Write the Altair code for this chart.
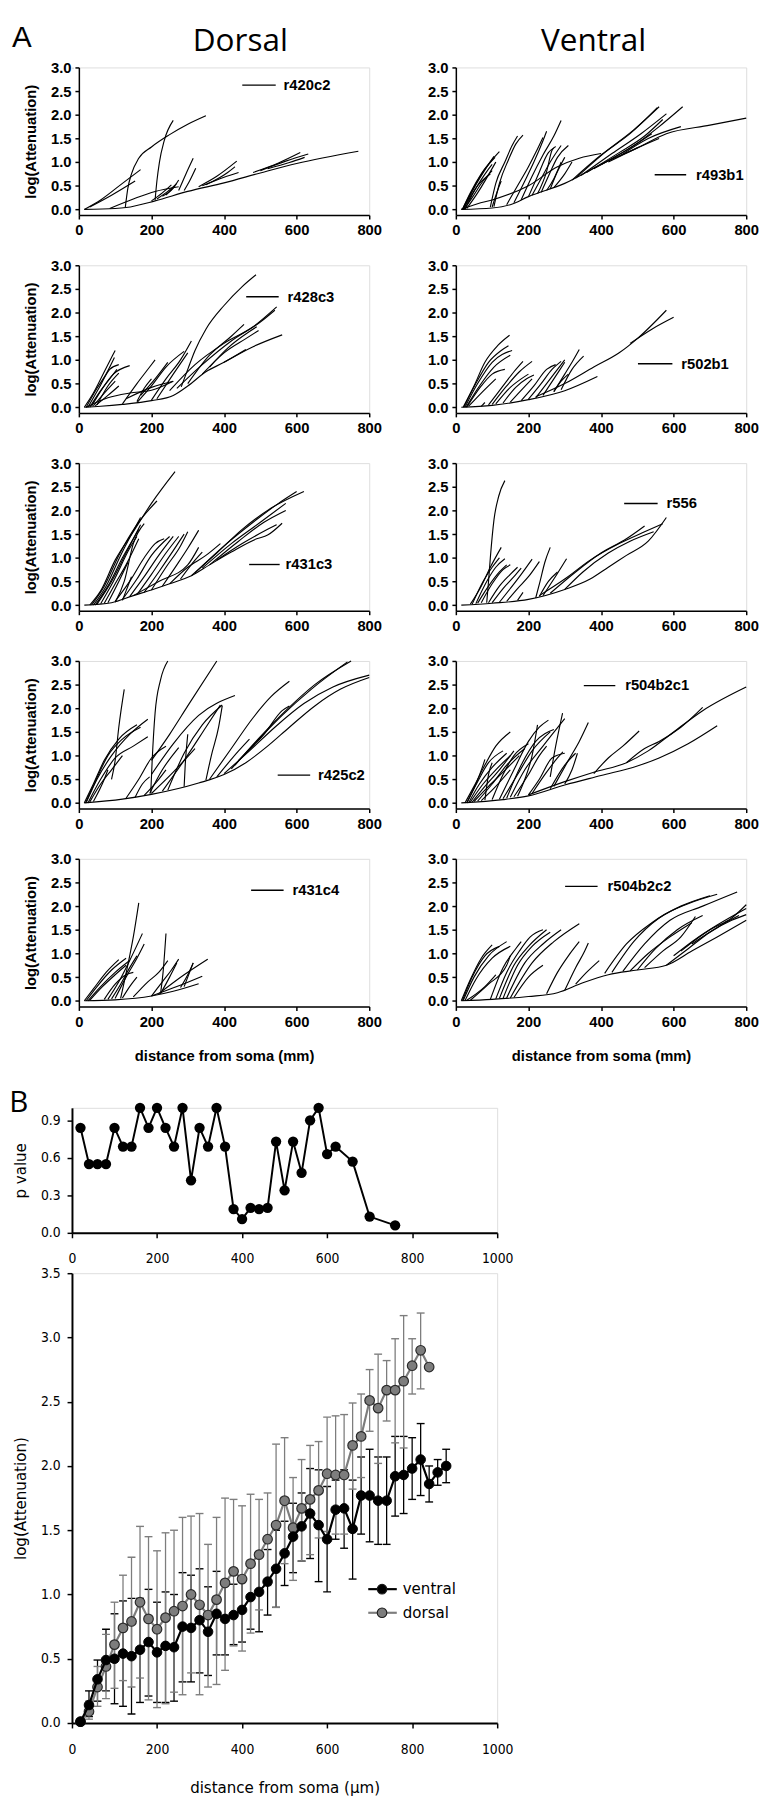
import altair as alt
import pandas as pd

# ---------------- fonts ----------------
FA = "Liberation Sans, Arial, sans-serif"
FB = "Liberation Sans Narrow, DejaVu Sans Condensed, Open Sans, sans-serif"
FT = "Open Sans, sans-serif"

# ---------------- Panel A data (distance, log attenuation) ----------------
D1_R420C2 = [
    [(15, 0), (100, 0.02), (130, 0.04), (210, 0.18), (300, 0.38), (400, 0.56), (500, 0.77), (600, 0.97), (770, 1.23)],
    [(15, 0), (60, 0.2), (120, 0.55), (170, 0.84)],
    [(30, 0.05), (90, 0.3), (155, 0.6)],
    [(128, 0.05), (135, 0.45), (145, 0.75), (165, 1.08), (200, 1.32), (250, 1.58), (300, 1.8), (350, 1.98)],
    [(210, 0.2), (215, 0.6), (222, 1.0), (235, 1.45), (260, 1.88)],
    [(85, 0.02), (150, 0.22), (210, 0.38), (275, 0.48)],
    [(200, 0.18), (230, 0.35), (255, 0.52)],
    [(215, 0.22), (245, 0.38), (270, 0.55)],
    [(230, 0.28), (260, 0.45), (275, 0.62)],
    [(240, 0.3), (265, 0.5)],
    [(275, 0.4), (295, 0.75), (315, 1.08)],
    [(290, 0.4), (305, 0.6), (322, 0.87)],
    [(330, 0.48), (380, 0.7), (435, 1.02)],
    [(340, 0.5), (400, 0.68), (440, 0.78)],
    [(350, 0.52), (410, 0.78), (430, 0.9)],
    [(480, 0.78), (550, 0.98), (610, 1.2)],
    [(500, 0.82), (570, 1.02), (632, 1.17)],
    [(520, 0.86), (580, 0.99), (622, 1.1)],
]

V1_R493B1 = [
    [(15, 0), (100, 0.03), (150, 0.1), (200, 0.27), (300, 0.55), (400, 0.95), (500, 1.3), (580, 1.6), (700, 1.78), (800, 1.93)],
    [(15, 0), (60, 0.12), (100, 0.2), (200, 0.5), (280, 0.9), (340, 1.08), (400, 1.18)],
    [(18, 0), (40, 0.35), (70, 0.75), (100, 1.05), (120, 1.22)],
    [(18, 0), (45, 0.4), (80, 0.85), (108, 1.1)],
    [(20, 0), (50, 0.45), (90, 0.95), (105, 1.12)],
    [(20, 0), (55, 0.45), (85, 0.8), (100, 0.95)],
    [(22, 0), (45, 0.25), (75, 0.6), (100, 0.82)],
    [(25, 0), (60, 0.5), (95, 0.75)],
    [(30, 0.02), (60, 0.35), (110, 1.0)],
    [(95, 0.05), (110, 0.55), (135, 1.0), (155, 1.35), (170, 1.55)],
    [(105, 0.06), (120, 0.55), (145, 1.05), (165, 1.38), (185, 1.57)],
    [(100, 0.05), (115, 0.4), (125, 0.6)],
    [(140, 0.1), (170, 0.5), (200, 0.9), (220, 1.2), (240, 1.52)],
    [(160, 0.14), (190, 0.6), (215, 1.0), (240, 1.45), (250, 1.65)],
    [(180, 0.2), (210, 0.7), (240, 1.15), (270, 1.55), (290, 1.88)],
    [(200, 0.27), (225, 0.7), (255, 1.2), (270, 1.3)],
    [(210, 0.3), (235, 0.65), (260, 1.0), (290, 1.35)],
    [(225, 0.33), (250, 0.8), (265, 1.25), (275, 1.33)],
    [(235, 0.36), (255, 0.7), (280, 1.1), (310, 1.35)],
    [(250, 0.4), (270, 0.65), (290, 1.0)],
    [(260, 0.43), (280, 0.8), (300, 1.1)],
    [(270, 0.46), (300, 0.75), (320, 1.0)],
    [(320, 0.62), (400, 1.15), (480, 1.6), (555, 2.15)],
    [(330, 0.66), (410, 1.2), (490, 1.68), (560, 2.17)],
    [(345, 0.72), (430, 1.18), (510, 1.6), (580, 2.02)],
    [(360, 0.78), (450, 1.2), (520, 1.55), (570, 1.9)],
    [(380, 0.86), (470, 1.25), (540, 1.6)],
    [(400, 0.95), (500, 1.4), (560, 1.75), (625, 2.17)],
    [(420, 1.0), (500, 1.3), (560, 1.5)],
    [(450, 1.12), (530, 1.5), (620, 1.75)],
]

D2_R428C3 = [
    [(15, 0), (60, 0.02), (120, 0.06), (200, 0.14), (260, 0.25), (300, 0.45), (350, 0.75), (400, 0.95), (460, 1.22)],
    [(400, 0.95), (480, 1.28), (560, 1.53)],
    [(282, 0.43), (300, 0.8), (320, 1.2), (350, 1.65), (400, 2.15), (450, 2.55), (488, 2.8)],
    [(250, 0.35), (320, 0.9), (400, 1.35), (480, 1.7), (545, 2.12)],
    [(270, 0.4), (340, 0.9), (420, 1.4), (500, 1.8), (540, 2.05)],
    [(340, 0.7), (400, 1.15), (460, 1.45), (495, 1.62)],
    [(360, 0.85), (410, 1.25), (470, 1.6), (490, 1.7)],
    [(300, 0.5), (360, 1.1), (420, 1.5), (455, 1.75)],
    [(200, 0.15), (240, 0.6), (280, 1.0), (310, 1.4)],
    [(215, 0.18), (260, 0.7), (300, 1.15)],
    [(160, 0.1), (200, 0.45), (240, 0.85), (290, 1.18)],
    [(120, 0.07), (160, 0.5), (195, 0.85), (210, 1.0)],
    [(130, 0.18), (200, 0.42), (260, 0.55)],
    [(160, 0.12), (180, 0.4), (200, 0.6)],
    [(170, 0.25), (210, 0.6), (245, 0.95)],
    [(15, 0), (40, 0.3), (70, 0.75), (100, 1.2)],
    [(20, 0), (50, 0.4), (75, 0.7), (98, 1.05)],
    [(25, 0), (55, 0.4), (85, 0.8), (110, 0.9)],
    [(30, 0), (60, 0.35), (90, 0.65), (105, 0.8)],
    [(35, 0.02), (65, 0.4), (95, 0.7), (140, 0.88)],
    [(40, 0.03), (70, 0.3), (100, 0.55)],
    [(45, 0.03), (80, 0.25), (110, 0.45)],
    [(50, 0.05), (80, 0.45), (110, 0.72)],
    [(20, 0), (80, 0.2), (140, 0.3), (200, 0.36), (260, 0.55)],
]

V2_R502B1 = [
    [(15, 0), (100, 0.04), (200, 0.16), (300, 0.35), (390, 0.65)],
    [(220, 0.22), (300, 0.5), (380, 0.85), (450, 1.15), (500, 1.45), (580, 2.05)],
    [(480, 1.35), (540, 1.65), (600, 1.9)],
    [(20, 0), (50, 0.45), (80, 0.95), (115, 1.3), (148, 1.52)],
    [(22, 0), (55, 0.5), (90, 0.95), (125, 1.2), (145, 1.3)],
    [(25, 0), (60, 0.5), (100, 0.95), (155, 1.2)],
    [(28, 0), (65, 0.45), (105, 0.85), (150, 1.1)],
    [(30, 0), (70, 0.45), (100, 0.7), (135, 0.8)],
    [(35, 0.02), (70, 0.3), (110, 0.6)],
    [(70, 0.02), (80, 0.1)],
    [(90, 0.05), (130, 0.45), (160, 0.75), (185, 0.97)],
    [(100, 0.06), (140, 0.45), (175, 0.75), (210, 0.97)],
    [(110, 0.07), (150, 0.42), (180, 0.6), (200, 0.7)],
    [(130, 0.09), (165, 0.42), (195, 0.6), (215, 0.68)],
    [(150, 0.11), (185, 0.4), (210, 0.6)],
    [(180, 0.14), (215, 0.45), (250, 0.8), (275, 0.9)],
    [(200, 0.17), (235, 0.5), (265, 0.8), (290, 0.97)],
    [(220, 0.2), (250, 0.5), (280, 0.8), (300, 1.0)],
    [(240, 0.25), (270, 0.6), (300, 0.95)],
    [(270, 0.33), (300, 0.7), (320, 0.95), (340, 1.22)],
    [(290, 0.37), (320, 0.8), (352, 1.08)],
    [(270, 0.33), (290, 0.55), (310, 0.7)],
]

D3_R431C3 = [
    [(15, 0), (90, 0.05), (150, 0.2), (200, 0.32), (250, 0.45), (310, 0.62), (360, 0.85), (420, 1.12), (490, 1.4), (520, 1.48), (560, 1.73)],
    [(310, 0.62), (380, 1.1), (450, 1.6), (530, 2.05), (620, 2.4)],
    [(320, 0.68), (400, 1.25), (480, 1.75), (550, 2.15), (600, 2.4)],
    [(340, 0.78), (420, 1.3), (500, 1.75), (570, 2.15)],
    [(360, 0.85), (440, 1.35), (510, 1.75), (570, 2.0)],
    [(380, 0.95), (450, 1.3), (520, 1.6), (545, 1.7)],
    [(250, 0.45), (300, 0.8), (350, 1.05), (390, 1.3)],
    [(280, 0.55), (320, 0.95), (340, 1.12)],
    [(30, 0), (60, 0.3), (100, 0.95), (150, 1.55), (200, 2.15), (265, 2.82)],
    [(35, 0), (70, 0.4), (110, 1.05), (160, 1.7), (215, 2.2)],
    [(40, 0), (75, 0.4), (115, 1.05), (170, 1.85)],
    [(45, 0), (80, 0.4), (120, 1.0), (165, 1.6)],
    [(50, 0.02), (90, 0.5), (130, 1.1), (170, 1.7)],
    [(60, 0.03), (95, 0.5), (140, 1.2), (160, 1.45)],
    [(70, 0.04), (100, 0.45), (130, 0.85), (165, 1.4)],
    [(80, 0.05), (110, 0.5), (135, 0.9)],
    [(100, 0.06), (125, 0.5), (150, 1.3), (180, 1.72)],
    [(120, 0.1), (130, 0.3), (145, 0.6)],
    [(100, 0.08), (140, 0.5), (180, 1.0), (210, 1.3), (235, 1.4)],
    [(120, 0.12), (160, 0.55), (200, 1.05), (250, 1.45)],
    [(140, 0.18), (180, 0.6), (220, 1.05), (260, 1.45)],
    [(160, 0.22), (200, 0.65), (240, 1.1), (275, 1.45)],
    [(180, 0.27), (220, 0.7), (260, 1.15), (290, 1.5)],
    [(200, 0.32), (240, 0.8), (280, 1.25), (300, 1.55)],
    [(230, 0.4), (270, 0.85), (300, 1.2), (330, 1.58)],
    [(150, 0.2), (220, 0.5), (300, 0.85), (330, 1.22)],
]

V3_R556 = [
    [(15, 0), (100, 0.04), (200, 0.12), (300, 0.33), (370, 0.55), (420, 0.8), (470, 1.05), (530, 1.35), (580, 1.85)],
    [(230, 0.2), (300, 0.55), (370, 0.95), (450, 1.3), (520, 1.55), (570, 1.72)],
    [(260, 0.25), (330, 0.7), (400, 1.1), (470, 1.4), (520, 1.67)],
    [(300, 0.33), (350, 0.7), (420, 1.1), (480, 1.35), (545, 1.55)],
    [(85, 0.05), (90, 0.5), (95, 1.0), (105, 1.8), (118, 2.3), (135, 2.63)],
    [(40, 0.02), (70, 0.4), (95, 0.8), (125, 1.22)],
    [(45, 0.02), (75, 0.5), (100, 0.8), (120, 1.0)],
    [(55, 0.03), (85, 0.5), (110, 0.8), (135, 0.98)],
    [(60, 0.04), (90, 0.4), (120, 0.7), (140, 0.85)],
    [(70, 0.05), (100, 0.45), (130, 0.75), (150, 0.85)],
    [(90, 0.05), (120, 0.4), (150, 0.65), (170, 0.8)],
    [(100, 0.05), (130, 0.35), (160, 0.6), (180, 0.78)],
    [(120, 0.06), (150, 0.35), (180, 0.65), (210, 0.97)],
    [(140, 0.08), (170, 0.35), (200, 0.6), (230, 0.92)],
    [(170, 0.1), (185, 0.27)],
    [(220, 0.15), (232, 0.5), (245, 0.9), (260, 1.22)],
    [(230, 0.18), (255, 0.5), (280, 0.7)],
    [(240, 0.2), (270, 0.55), (305, 0.98)],
]

D4_R425C2 = [
    [(15, 0), (120, 0.08), (200, 0.18), (330, 0.42), (400, 0.6), (460, 0.85), (520, 1.2), (580, 1.6), (650, 2.05), (720, 2.4), (800, 2.65)],
    [(400, 0.62), (470, 1.1), (540, 1.6), (620, 2.1), (700, 2.45), (800, 2.7)],
    [(420, 0.72), (490, 1.3), (560, 1.85), (640, 2.4), (740, 2.98)],
    [(430, 0.8), (500, 1.4), (570, 1.95), (650, 2.5), (750, 3.0)],
    [(440, 0.9), (510, 1.45), (560, 1.95), (580, 2.05)],
    [(360, 0.5), (420, 1.15), (480, 1.8), (530, 2.25), (580, 2.57)],
    [(380, 0.55), (440, 1.1), (470, 1.35)],
    [(15, 0), (40, 0.4), (70, 0.9), (110, 1.35), (160, 1.65)],
    [(18, 0), (45, 0.45), (80, 1.0), (120, 1.35), (170, 1.6)],
    [(20, 0), (50, 0.5), (90, 1.0), (140, 1.45), (190, 1.77)],
    [(25, 0), (60, 0.5), (100, 0.95), (150, 1.2), (190, 1.4)],
    [(30, 0.02), (60, 0.4), (90, 0.7), (120, 1.0)],
    [(40, 0.03), (70, 0.5), (80, 0.7)],
    [(90, 0.5), (100, 0.9), (110, 1.6), (125, 2.4)],
    [(198, 0.2), (202, 0.9), (210, 1.9), (225, 2.6), (245, 3.0)],
    [(200, 0.9), (250, 1.45), (300, 2.05), (380, 3.0)],
    [(200, 0.6), (260, 1.25), (330, 1.85), (430, 2.27)],
    [(130, 0.1), (165, 0.5), (200, 0.95), (240, 1.2)],
    [(155, 0.12), (175, 0.4), (195, 0.55)],
    [(180, 0.16), (220, 0.5), (240, 0.7)],
    [(195, 0.2), (230, 0.7), (275, 1.17)],
    [(200, 0.2), (260, 0.65), (320, 1.15)],
    [(230, 0.25), (290, 0.9), (350, 1.6), (390, 2.07)],
    [(245, 0.27), (290, 1.05), (340, 1.65), (395, 2.07)],
    [(290, 0.34), (293, 0.8), (300, 1.45)],
    [(350, 0.48), (365, 1.0), (385, 1.6), (395, 2.05)],
]

V4_R504B2C1 = [
    [(15, 0), (130, 0.07), (200, 0.15), (300, 0.38), (400, 0.58), (500, 0.78), (560, 0.95), (640, 1.25), (720, 1.63)],
    [(200, 0.17), (300, 0.45), (380, 0.65), (470, 0.85), (530, 1.1), (600, 1.5), (680, 1.95), (800, 2.45)],
    [(470, 0.85), (520, 1.15), (560, 1.3), (620, 1.6), (680, 2.02)],
    [(380, 0.62), (420, 0.95), (460, 1.2), (505, 1.52)],
    [(25, 0), (50, 0.35), (80, 0.8), (110, 1.2), (150, 1.5)],
    [(30, 0), (60, 0.45), (90, 0.85), (130, 1.1)],
    [(30, 0), (55, 0.4), (75, 0.8), (80, 0.92)],
    [(35, 0), (65, 0.4), (100, 0.75), (140, 1.05)],
    [(40, 0.02), (75, 0.4), (110, 0.7), (150, 1.0)],
    [(45, 0.02), (80, 0.35), (120, 0.7), (160, 1.1)],
    [(50, 0.03), (90, 0.35), (130, 0.65), (175, 1.0)],
    [(60, 0.04), (100, 0.4), (140, 0.8), (190, 1.15)],
    [(70, 0.05), (110, 0.35), (150, 0.7)],
    [(80, 0.06), (90, 0.6), (100, 0.85)],
    [(100, 0.07), (130, 0.6), (160, 1.0), (200, 1.25)],
    [(120, 0.08), (160, 0.7), (200, 1.3), (230, 1.6), (255, 1.75)],
    [(130, 0.09), (170, 0.6), (210, 1.1), (260, 1.5)],
    [(140, 0.1), (180, 0.8), (220, 1.3), (270, 1.55)],
    [(150, 0.12), (190, 0.7), (240, 1.2), (300, 1.78)],
    [(160, 0.13), (200, 0.6), (230, 1.0), (250, 1.2)],
    [(170, 0.14), (190, 0.5), (210, 1.0), (225, 1.65)],
    [(200, 0.17), (230, 0.5), (265, 0.95), (300, 1.05)],
    [(210, 0.2), (250, 0.65), (280, 0.95), (295, 1.08)],
    [(260, 0.55), (275, 1.2), (294, 1.9)],
    [(260, 0.3), (300, 0.8), (330, 1.05)],
    [(270, 0.35), (310, 0.9), (340, 1.3), (365, 1.7)],
    [(300, 0.4), (320, 0.7), (335, 1.05)],
]

D5_R431C4 = [
    [(15, 0), (100, 0.02), (200, 0.1), (260, 0.2), (330, 0.36)],
    [(200, 0.1), (270, 0.3), (340, 0.52)],
    [(220, 0.15), (290, 0.55), (355, 0.88)],
    [(280, 0.28), (300, 0.55), (315, 0.8)],
    [(15, 0), (40, 0.25), (75, 0.6), (110, 0.87)],
    [(20, 0), (50, 0.3), (90, 0.65), (130, 0.9)],
    [(25, 0), (60, 0.3), (100, 0.6), (140, 0.85)],
    [(30, 0.01), (65, 0.3), (100, 0.55), (130, 0.75)],
    [(70, 0.03), (100, 0.35), (130, 0.55), (150, 0.6)],
    [(80, 0.03), (110, 0.4), (140, 0.85), (175, 1.42)],
    [(115, 0.05), (125, 0.4), (140, 0.95), (150, 1.35), (165, 2.07)],
    [(90, 0.04), (115, 0.35), (140, 0.7), (160, 0.95)],
    [(100, 0.05), (130, 0.5), (160, 0.9), (180, 1.2)],
    [(120, 0.06), (140, 0.3), (160, 0.5)],
    [(150, 0.08), (190, 0.4), (220, 0.6), (245, 0.85)],
    [(200, 0.1), (230, 0.4), (255, 0.65), (275, 0.88)],
    [(225, 0.15), (232, 0.6), (240, 1.42)],
    [(225, 0.15), (250, 0.5), (270, 0.8)],
    [(290, 0.3), (305, 0.6), (315, 0.8)],
]

V5_R504B2C2 = [
    [(15, 0), (100, 0.03), (200, 0.09), (280, 0.17), (350, 0.38), (420, 0.55), (500, 0.65), (580, 0.75), (650, 1.05), (720, 1.35), (800, 1.7)],
    [(580, 0.75), (640, 1.1), (700, 1.45), (760, 1.7), (800, 1.82)],
    [(600, 0.95), (660, 1.3), (720, 1.6), (800, 1.95)],
    [(620, 1.05), (700, 1.5), (760, 1.75), (800, 2.03)],
    [(650, 1.2), (720, 1.55), (780, 1.8)],
    [(410, 0.58), (470, 1.2), (540, 1.65), (620, 2.0), (700, 2.22)],
    [(430, 0.6), (490, 1.25), (560, 1.75), (640, 2.05), (720, 2.25)],
    [(460, 0.62), (520, 1.2), (590, 1.7), (680, 2.0), (775, 2.3)],
    [(500, 0.65), (550, 1.1), (610, 1.5), (680, 1.8)],
    [(480, 0.63), (530, 1.0), (590, 1.35), (650, 1.65)],
    [(520, 0.7), (570, 1.05), (620, 1.35), (660, 1.78)],
    [(250, 0.15), (280, 0.6), (310, 0.95), (340, 1.25)],
    [(300, 0.22), (330, 0.7), (355, 1.05), (365, 1.22)],
    [(330, 0.35), (360, 0.6), (395, 0.85)],
    [(15, 0), (40, 0.45), (70, 0.9), (100, 1.18)],
    [(18, 0), (45, 0.5), (80, 0.95), (120, 1.15)],
    [(20, 0), (50, 0.5), (90, 0.95), (140, 1.25)],
    [(25, 0), (55, 0.45), (100, 0.9), (150, 1.15)],
    [(30, 0.01), (80, 0.3), (110, 0.55)],
    [(40, 0.01), (90, 0.35), (140, 0.75), (150, 0.95)],
    [(95, 0.03), (130, 0.7), (165, 1.1), (180, 1.25)],
    [(110, 0.04), (140, 0.6), (175, 1.05), (205, 1.35), (240, 1.5)],
    [(120, 0.05), (160, 0.75), (200, 1.15), (250, 1.5)],
    [(130, 0.05), (170, 0.75), (210, 1.15), (260, 1.45)],
    [(140, 0.06), (190, 0.8), (240, 1.2), (290, 1.5)],
    [(150, 0.06), (210, 0.8), (270, 1.25), (340, 1.63)],
    [(160, 0.07), (200, 0.5), (240, 0.75)],
]

DORSAL_CELLS = ["r420c2", "r428c3", "r431c3", "r425c2", "r431c4"]
VENTRAL_CELLS = ["r493b1", "r502b1", "r556", "r504b2c1", "r504b2c2"]
DORSAL_CURVES = [D1_R420C2, D2_R428C3, D3_R431C3, D4_R425C2, D5_R431C4]
VENTRAL_CURVES = [V1_R493B1, V2_R502B1, V3_R556, V4_R504B2C1, V5_R504B2C2]
A_X_TICKS = [0, 200, 400, 600, 800]
A_Y_TICKS = [0, 0.5, 1.0, 1.5, 2.0, 2.5, 3.0]

# ---------------- Panel B data ----------------
P_DIST = [20, 40, 60, 80, 100, 120, 140, 160, 180, 200, 220, 240, 260, 280, 300, 320, 340,
          360, 380, 400, 420, 440, 460, 480, 500, 520, 540, 560, 580, 600, 620, 660, 700, 760]
P_VALUE = [0.84, 0.55, 0.55, 0.55, 0.84, 0.69, 0.69, 1.0, 0.84, 1.0, 0.84, 0.69, 1.0, 0.42, 0.84, 0.69, 1.0,
           0.69, 0.19, 0.11, 0.20, 0.19, 0.20, 0.73, 0.34, 0.73, 0.48, 0.90, 1.0, 0.63, 0.69, 0.57, 0.13, 0.06]

V_DIST = list(range(20, 881, 20))
V_MEAN = [0.01, 0.14, 0.34, 0.49, 0.50, 0.54, 0.52, 0.57, 0.63, 0.55, 0.60, 0.59, 0.75, 0.74, 0.80, 0.71, 0.85,
          0.81, 0.84, 0.88, 0.98, 1.02, 1.10, 1.20, 1.32, 1.45, 1.53, 1.63, 1.54, 1.43, 1.66, 1.67, 1.51, 1.77,
          1.77, 1.73, 1.73, 1.92, 1.93, 1.98, 2.05, 1.86, 1.95, 2.00]
V_LO = [0.01, 0.05, 0.17, 0.25, 0.15, 0.13, 0.07, 0.16, 0.21, 0.16, 0.16, 0.17, 0.32, 0.32, 0.39, 0.37, 0.53,
        0.53, 0.61, 0.63, 0.73, 0.71, 0.84, 0.90, 1.07, 1.17, 1.26, 1.28, 1.10, 1.02, 1.43, 1.36, 1.12, 1.47,
        1.41, 1.39, 1.39, 1.61, 1.63, 1.74, 1.77, 1.72, 1.85, 1.87]
V_HI = [0.01, 0.25, 0.49, 0.73, 0.85, 0.95, 0.97, 0.97, 1.04, 0.94, 1.02, 1.00, 1.17, 1.15, 1.20, 1.06, 1.18,
        1.09, 1.08, 1.12, 1.23, 1.33, 1.35, 1.50, 1.57, 1.71, 1.79, 1.98, 1.97, 1.84, 1.89, 1.97, 1.89, 2.07,
        2.13, 2.07, 2.07, 2.23, 2.23, 2.22, 2.33, 2.00, 2.05, 2.13]

D_DIST = list(range(20, 841, 20))
D_MEAN = [0.01, 0.09, 0.28, 0.44, 0.61, 0.74, 0.79, 0.94, 0.81, 0.73, 0.82, 0.87, 0.91, 1.00, 0.92, 0.84, 0.96,
          1.09, 1.18, 1.12, 1.24, 1.31, 1.43, 1.54, 1.73, 1.52, 1.67, 1.74, 1.81, 1.94, 1.93, 1.93, 2.16, 2.23,
          2.51, 2.45, 2.59, 2.59, 2.66, 2.78, 2.90, 2.77]
D_LO = [0.01, 0.03, 0.13, 0.19, 0.27, 0.33, 0.28, 0.35, 0.18, 0.12, 0.15, 0.24, 0.22, 0.39, 0.22, 0.28, 0.30,
        0.41, 0.60, 0.56, 0.70, 0.88, 1.07, 0.90, 1.24, 1.11, 1.26, 1.31, 1.44, 1.49, 1.47, 1.47, 1.82, 1.91,
        2.27, 2.02, 2.35, 2.18, 2.14, 2.56, 2.60, 2.77]
D_HI = [0.01, 0.17, 0.44, 0.69, 0.94, 1.15, 1.29, 1.53, 1.45, 1.34, 1.48, 1.50, 1.60, 1.61, 1.63, 1.39, 1.60,
        1.75, 1.74, 1.69, 1.78, 1.74, 1.79, 2.17, 2.22, 1.91, 2.05, 2.16, 2.19, 2.38, 2.39, 2.40, 2.49, 2.56,
        2.75, 2.87, 2.82, 2.99, 3.17, 2.99, 3.19, 2.77]

B_X_TICKS = [0, 200, 400, 600, 800, 1000]

# ---------------- layout (pixels) ----------------
A_W, A_H = 295, 150
# legend (line x0, line x1, y, text x) relative to each small panel's plot area
LEG = {
    "r420c2": (166, 200, 18, 208), "r428c3": (170, 203, 32, 212), "r431c3": (173, 204, 103, 210),
    "r425c2": (202, 235, 116, 243), "r431c4": (175, 208, 32, 217),
    "r493b1": (202, 234, 109, 244), "r502b1": (185, 220, 100, 229), "r556": (171, 205, 41, 214),
    "r504b2c1": (130, 162, 25, 172), "r504b2c2": (111, 144, 28, 154),
}


def curves_df(curves):
    recs = []
    for ci, pts in enumerate(curves):
        for oi, (x, y) in enumerate(pts):
            recs.append({"c": ci, "o": oi, "x": x, "y": y})
    return pd.DataFrame(recs)


def text_layer(s, x, y, size, font, weight="normal", align="center"):
    return alt.Chart(pd.DataFrame({"t": [s]})).mark_text(
        align=align, baseline="middle", font=font, fontSize=size, fontWeight=weight, color="black"
    ).encode(x=alt.value(x), y=alt.value(y), text="t:N")


A_AXIS = dict(labelFont=FA, labelFontWeight="bold", labelFontSize=15, labelColor="black",
              domainColor="black", domainWidth=1.5, tickColor="black", tickWidth=1.5, tickSize=4,
              grid=False, titleFont=FA, titleFontWeight="bold", titleFontSize=15, titleColor="black",
              labelFlush=False, labelOverlap=False)


def a_panel(label, curves, col, row, extras=()):
    df = curves_df(curves)
    x_title = "distance from soma (mm)" if row == 4 else None
    y_title = "log(Attenuation)" if col == 0 else None
    lines = alt.Chart(df).mark_line(color="black", strokeWidth=1.15, interpolate="monotone").encode(
        x=alt.X("x:Q", scale=alt.Scale(domain=[0, 800], nice=False, zero=False),
                axis=alt.Axis(values=A_X_TICKS, title=x_title, labelPadding=4, titlePadding=20, **A_AXIS)),
        y=alt.Y("y:Q", scale=alt.Scale(domain=[-0.12, 3.0], nice=False, zero=False),
                axis=alt.Axis(values=A_Y_TICKS, format=".1f", title=y_title, labelPadding=4,
                              titlePadding=12, **A_AXIS)),
        detail="c:N", order="o:Q",
    )
    x0, x1, ly, tx = LEG[label]
    ld = pd.DataFrame({"t": [label]})
    rule = alt.Chart(ld).mark_rule(color="black", strokeWidth=1.4).encode(
        x=alt.value(x0), x2=alt.value(x1), y=alt.value(ly))
    txt = text_layer(label, tx, ly, 15, FA, "bold", "left")
    return alt.layer(lines, rule, txt, *extras).properties(width=A_W, height=A_H)


def spacer(w, h):
    return alt.Chart(pd.DataFrame({"v": [0]})).mark_point(opacity=0).encode(
        x=alt.X("v:Q", axis=None), y=alt.Y("v:Q", axis=None)).properties(width=w, height=h)


panels = []
for i in range(5):
    d_extras = ()
    v_extras = ()
    if i == 0:
        d_extras = (text_layer("A", -58, -30, 30, FA), text_layer("Dorsal", 164, -27, 32, FT))
        v_extras = (text_layer("Ventral", 140, -27, 32, FT),)
    panels.append(a_panel(DORSAL_CELLS[i], DORSAL_CURVES[i], 0, i, d_extras))
    panels.append(a_panel(VENTRAL_CELLS[i], VENTRAL_CURVES[i], 1, i, v_extras))

grid_a = alt.concat(*panels, columns=2, spacing={"row": 51, "column": 88}, bounds="flush")
row_a = alt.hconcat(spacer(1, 1), grid_a, spacing=6, bounds="flush")

# ---------------- Panel B ----------------
B_AXIS = dict(labelFont=FB, labelFontSize=14, labelColor="black", domainColor="black", domainWidth=2,
              tickColor="black", tickWidth=1.5, tickSize=5, grid=False, titleFont=FB, titleFontSize=17,
              titleFontWeight="normal", titleColor="black", labelFlush=False, labelOverlap=False)

pdf = pd.DataFrame({"dist": P_DIST, "p": P_VALUE})
px = alt.X("dist:Q", scale=alt.Scale(domain=[0, 1000], nice=False),
           axis=alt.Axis(values=B_X_TICKS, format="d", title=None, labelPadding=14, **B_AXIS))
py = alt.Y("p:Q", scale=alt.Scale(domain=[0, 1.0], nice=False),
           axis=alt.Axis(values=[0, 0.3, 0.6, 0.9], format=".1f", title="p value", labelPadding=7,
                         titlePadding=11, **B_AXIS))
p_line = alt.Chart(pdf).mark_line(color="black", strokeWidth=2).encode(x=px, y=py)
p_pts = alt.Chart(pdf).mark_circle(size=110, color="black", opacity=1).encode(x=px, y=py)
p_plot = alt.layer(p_line, p_pts, text_layer("B", -54, -5, 30, FT)).properties(width=432, height=127)

vdf = pd.DataFrame({"dist": V_DIST, "mean": V_MEAN, "lo": V_LO, "hi": V_HI})
ddf = pd.DataFrame({"dist": D_DIST, "mean": D_MEAN, "lo": D_LO, "hi": D_HI})

BX_SCALE = alt.Scale(domain=[0, 1000], nice=False)
BY_SCALE = alt.Scale(domain=[0, 3.5], nice=False)


def bx():
    return alt.X("dist:Q", scale=BX_SCALE,
                 axis=alt.Axis(values=B_X_TICKS, format="d", title="distance from soma (µm)", labelPadding=15,
                               titlePadding=24, **B_AXIS))


def by(field):
    return alt.Y(f"{field}:Q", scale=BY_SCALE,
                 axis=alt.Axis(values=[0, 0.5, 1.0, 1.5, 2.0, 2.5, 3.0, 3.5], format=".1f",
                               title="log(Attenuation)", labelPadding=7, titlePadding=11, **B_AXIS))


def err_layers(df, color):
    bar = alt.Chart(df).mark_rule(color=color, strokeWidth=1.3).encode(x=bx(), y=by("lo"), y2="hi:Q")
    cap_lo = alt.Chart(df).mark_tick(orient="horizontal", color=color, size=8, thickness=1.4, opacity=1).encode(
        x=bx(), y=by("lo"))
    cap_hi = alt.Chart(df).mark_tick(orient="horizontal", color=color, size=8, thickness=1.4, opacity=1).encode(
        x=bx(), y=by("hi"))
    return [bar, cap_lo, cap_hi]


GRAY = "#7d7d7d"
d_line = alt.Chart(ddf).mark_line(color=GRAY, strokeWidth=2.2).encode(x=bx(), y=by("mean"))
d_pts = alt.Chart(ddf).mark_circle(size=95, fill=GRAY, stroke="#2a2a2a", strokeWidth=1.2, opacity=1).encode(
    x=bx(), y=by("mean"))
v_line = alt.Chart(vdf).mark_line(color="black", strokeWidth=2.2).encode(x=bx(), y=by("mean"))
v_pts = alt.Chart(vdf).mark_circle(size=95, fill="black", stroke="black", strokeWidth=1, opacity=1).encode(
    x=bx(), y=by("mean"))

leg = []
for name, yy, col in (("ventral", 321, "black"), ("dorsal", 345, GRAY)):
    one = pd.DataFrame({"t": [name]})
    leg.append(alt.Chart(one).mark_rule(color=col, strokeWidth=2.2).encode(
        x=alt.value(301), x2=alt.value(330), y=alt.value(yy)))
    leg.append(alt.Chart(one).mark_circle(size=95, fill=col, stroke="#1a1a1a", strokeWidth=1.1, opacity=1).encode(
        x=alt.value(315), y=alt.value(yy)))
    leg.append(text_layer(name, 336, yy, 17, FB, "normal", "left"))

big_plot = alt.layer(
    *err_layers(vdf, "black"), *err_layers(ddf, GRAY), d_line, d_pts, v_line, v_pts, *leg
).properties(width=432, height=457)

stack_b = alt.vconcat(p_plot, big_plot, spacing=41, bounds="flush")

chart = alt.vconcat(row_a, stack_b, spacing=23).properties(
    padding={"left": 0, "top": 0, "right": 0, "bottom": 0}
).configure_view(strokeWidth=0).configure(background="white")

chart.save("out.html", embed_options={"renderer": "svg", "actions": False})
